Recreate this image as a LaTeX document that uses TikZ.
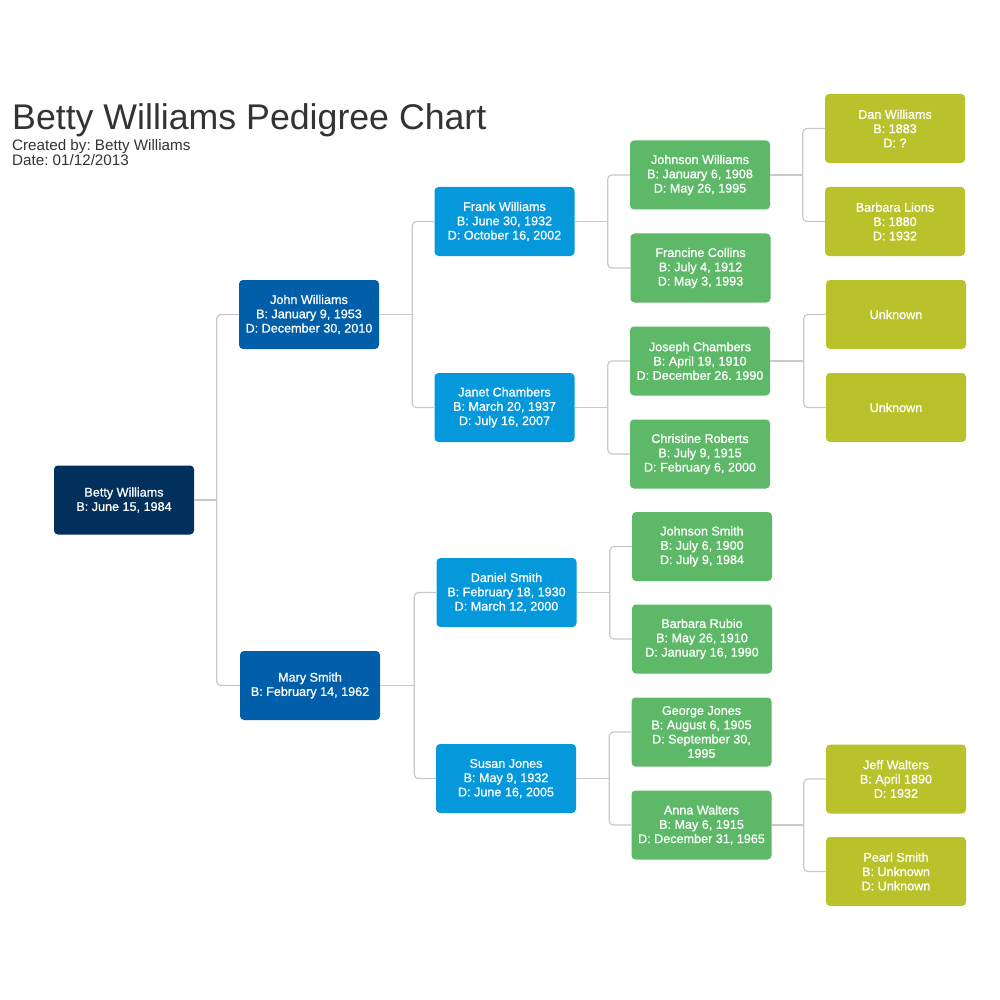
\documentclass[tikz,border=0pt]{standalone}
\usepackage{fontspec}
\setmainfont{Liberation Sans}
\newfontfamily\boxfont[FakeBold=0.9]{Liberation Sans}
\frenchspacing
\definecolor{cnavy}{HTML}{00305B}
\definecolor{cblue}{HTML}{005FA8}
\definecolor{clight}{HTML}{0598DB}
\definecolor{cgreen}{HTML}{5DB967}
\definecolor{colive}{HTML}{B9C22A}
\definecolor{cline}{HTML}{C9C9C9}
\definecolor{ctitle}{HTML}{333333}
\newcommand\famlink[3]{%
  \path ([xshift=-22pt]#2.west) coordinate (j#1);
  \draw[conn] (#2.west) -- (j#1) |- (#3.west);
  \draw[conn] (#1.east) -- (#1.east -| j#1);
}
\newcommand\lowstrut{\rule[-4pt]{0pt}{0pt}}
\begin{document}
\begin{tikzpicture}[x=1pt,y=-1pt,
  person/.style={rectangle, rounded corners=4pt, minimum width=140pt, minimum height=69pt,
    inner sep=0pt, align=center, text=white, font=\boxfont\fontsize{12.6}{14.3}\selectfont,
    execute at begin node={\rule{0pt}{13pt}}},
  g0/.style={person, fill=cnavy},
  g1/.style={person, fill=cblue},
  g2/.style={person, fill=clight},
  g3/.style={person, fill=cgreen},
  g4/.style={person, fill=colive},
  conn/.style={draw=cline, line width=1.2pt, rounded corners=4pt},
  ttl/.style={anchor=base west, inner sep=0pt, text=ctitle}]
\useasboundingbox (0,0) rectangle (1000,1000);
\fill[white] (0,0) rectangle (1000,1000);

\node[ttl, font=\fontsize{35.7}{40}\selectfont] (title) at (12,130) {Betty Williams Pedigree Chart};
\node[ttl, font=\fontsize{15.2}{16}\selectfont] (sub1) at (12,150.5) {Created by: Betty Williams};
\node[ttl, font=\fontsize{15.2}{16}\selectfont] (sub2) at (12,165.5) {Date: 01/12/2013};

\node[g0] (betty) at (124,500) {Betty Williams\\B: June 15, 1984};

\node[g1] (john) at (309,314.5) {John Williams\\B: January 9, 1953\\D: December 30, 2010};
\node[g1] (mary) at (310,685.5) {Mary Smith\\B: February 14, 1962};

\node[g2] (frank) at (504.5,221.5) {Frank Williams\\B: June 30, 1932\\D: October 16, 2002};
\node[g2] (janet) at (504.5,407.5) {Janet Chambers\\B: March 20, 1937\\D: July 16, 2007};
\node[g2] (daniel) at (506.5,592.5) {Daniel Smith\\B: February 18, 1930\\D: March 12, 2000};
\node[g2] (susan) at (506,778.5) {Susan Jones\\B: May 9, 1932\\D: June 16, 2005};

\node[g3] (johnsonw) at (700,175) {Johnson Williams\\B: January 6, 1908\\D: May 26, 1995};
\node[g3] (francine) at (700.5,268) {Francine Collins\\B: July 4, 1912\\D: May 3, 1993};
\node[g3] (joseph) at (700,361) {Joseph Chambers\\B: April 19, 1910\\D: December 26. 1990};
\node[g3] (christine) at (700,454) {Christine Roberts\\B: July 9, 1915\\D: February 6, 2000};
\node[g3] (johnsons) at (702,546.5) {Johnson Smith\\B: July 6, 1900\\D: July 9, 1984};
\node[g3] (barbarar) at (702,639) {Barbara Rubio\\B: May 26, 1910\\D: January 16, 1990};
\node[g3] (george) at (701.5,732) {George Jones\\B: August 6, 1905\\D: September 30,\\1995};
\node[g3] (anna) at (701.5,825) {Anna Walters\\B: May 6, 1915\\D: December 31, 1965};

\node[g4] (dan) at (895,128.5) {Dan Williams\\B: 1883\\D: ?};
\node[g4] (barbaral) at (895,221.5) {Barbara Lions\\B: 1880\\D: 1932};
\node[g4] (unk1) at (896,314.5) {Unknown\lowstrut};
\node[g4] (unk2) at (896,407.5) {Unknown\lowstrut};
\node[g4] (jeff) at (896,779) {Jeff Walters\\B: April 1890\\D: 1932};
\node[g4] (pearl) at (896,871.5) {Pearl Smith\\B: Unknown\\D: Unknown};

\famlink{betty}{john}{mary}
\famlink{john}{frank}{janet}
\famlink{mary}{daniel}{susan}
\famlink{frank}{johnsonw}{francine}
\famlink{janet}{joseph}{christine}
\famlink{daniel}{johnsons}{barbarar}
\famlink{susan}{george}{anna}
\famlink{johnsonw}{dan}{barbaral}
\famlink{joseph}{unk1}{unk2}
\famlink{anna}{jeff}{pearl}
\end{tikzpicture}
\end{document}
